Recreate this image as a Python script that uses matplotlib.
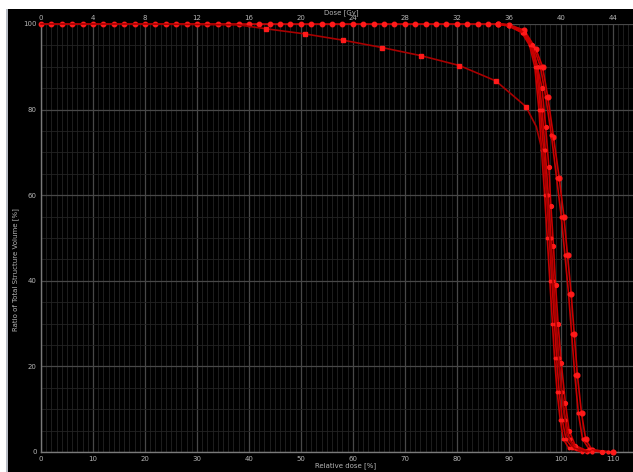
import matplotlib
matplotlib.use("Agg")
import matplotlib.pyplot as plt
from matplotlib.patches import Rectangle
import numpy as np

# ---- data (relative dose [%], volume [%]) ----
flat_x = [0, 2, 4, 6, 8, 10, 12, 14, 16, 18, 20, 22, 24, 26, 28, 30, 32, 34, 36,
          38, 40, 42, 44, 46, 48, 50, 52, 54, 56, 58, 60, 62, 64, 66, 68, 70, 72,
          74, 76, 78, 80, 82, 84, 86, 88]

c1_x = [90, 93, 95.2, 96.5, 97.5, 98.6, 99.7, 100.6, 101.3, 102.0, 102.6, 103.2, 104.0, 104.8, 106, 110]
c1_y = [99.8, 98.5, 94.2, 90, 83, 73.7, 64, 55, 46, 37, 27.5, 18, 9, 3, 0.5, 0]

c2_x = [90, 92.8, 94.8, 96.1, 97.1, 98.2, 99.2, 100.1, 100.8, 101.5, 102.1, 102.7, 103.4, 104.2, 105.5, 109]
c2_y = [99.8, 98.6, 94.5, 90, 83, 74, 64, 55, 46, 37, 27.5, 18, 9, 3, 0.6, 0]

c3_x = [90, 93, 94.5, 95.5, 96.4, 97.1, 97.7, 98.1, 98.6, 99.0, 99.5, 100.1, 100.9, 101.6, 102.8, 105, 108]
c3_y = [99.8, 98, 95, 90, 85, 76, 66.7, 57.5, 48.2, 39, 29.8, 20.7, 11.4, 5, 1.5, 0.3, 0]

c4_x = [90, 92.5, 94, 95, 95.8, 96.3, 96.9, 97.4, 97.9, 98.4, 98.8, 99.3, 99.9, 100.5, 101.5, 104]
c4_y = [99.5, 98, 95, 90, 80, 70.6, 60, 50, 40, 30, 22, 14, 7.5, 3, 1, 0]

c5_x = [90, 92.7, 94.2, 95.3, 96.1, 96.7, 97.3, 97.8, 98.3, 98.8, 99.2, 99.7, 100.3, 101.0, 102.2, 105]
c5_y = [99.6, 98, 95, 90, 80, 70.6, 60, 50, 40, 30, 22, 14, 7.5, 3, 1, 0]

c6_x = [90, 92.9, 94.4, 95.5, 96.4, 97.0, 97.6, 98.1, 98.6, 99.1, 99.6, 100.2, 100.9, 101.7, 103.0, 106]
c6_y = [99.7, 98, 95, 90, 80, 70.6, 60, 50, 40, 30, 22, 14, 7.5, 3, 1, 0]

c7_x = [0, 20, 38, 43.2, 50.7, 58.2, 65.6, 73.1, 80.5, 87.5, 93.3, 95.3, 96.5, 97.3, 97.9, 98.5, 99.1, 99.7, 100.4, 101.2, 102.5, 105]
c7_y = [100, 100, 99.8, 98.9, 97.7, 96.2, 94.5, 92.6, 90.3, 86.7, 80.7, 76, 70, 60, 50, 40, 30, 20, 11, 4, 1, 0]

dose_ticks_gy = [0, 4, 8, 12, 16, 20, 24, 28, 32, 36, 40, 44]
rel_ticks = [0, 10, 20, 30, 40, 50, 60, 70, 80, 90, 100, 110]
vol_ticks = [0, 20, 40, 60, 80, 100]
prescription_gy = 40.0

# ---- figure ----
W, H = 633, 472
fig = plt.figure(figsize=(W / 100, H / 100), dpi=100, facecolor="black")
fig.patches.append(Rectangle((0, 1 - 9 / H), 1, 9 / H, transform=fig.transFigure,
                             facecolor="white", edgecolor="none", zorder=0))
fig.patches.append(Rectangle((0, 0), 6 / W, 1, transform=fig.transFigure,
                             facecolor="white", edgecolor="none", zorder=0))
fig.patches.append(Rectangle((6 / W, 0), 2 / W, 1 - 9 / H, transform=fig.transFigure,
                             facecolor="#b8bcc4", edgecolor="none", zorder=0))

ax = fig.add_axes([41 / W, 1 - 452 / H, 1 - 41 / W, (452 - 24) / H])
ax.set_facecolor("black")
ax.set_xlim(0, 113.9)
ax.set_ylim(0, 100)

# grid
ax.set_xticks(rel_ticks)
ax.set_xticks(np.arange(0, 114, 1), minor=True)
ax.set_yticks(vol_ticks)
ax.set_yticks(np.arange(0, 101, 5), minor=True)
ax.grid(which="minor", color="#232323", linewidth=0.6)
ax.grid(which="major", color="#484848", linewidth=0.9)
ax.set_axisbelow(True)
for s in ["top", "right"]:
    ax.spines[s].set_visible(False)
for s in ["left", "bottom"]:
    ax.spines[s].set_color("#7a7a7a")
    ax.spines[s].set_linewidth(1.0)

ax.tick_params(which="both", length=0, colors="#b5b5b5", labelsize=5)
ax.tick_params(axis="x", pad=3)
ax.tick_params(axis="y", pad=3)

# top axis
top = ax.secondary_xaxis("top", functions=(lambda r: r * prescription_gy / 100,
                                           lambda d: d * 100 / prescription_gy))
top.set_xticks(dose_ticks_gy)
top.tick_params(length=0, colors="#b5b5b5", labelsize=5, pad=2)
top.spines["top"].set_visible(False)

line_c = "#c80000"
mk_c = "#ff1a1a"

# flat common part
ax.plot(flat_x, [100] * len(flat_x), color=line_c, lw=1.2, marker="o", ms=3.2,
        mfc=mk_c, mec=mk_c, clip_on=False, zorder=3)

curves = [(c1_x, c1_y, 3.4), (c2_x, c2_y, 2.0), (c3_x, c3_y, 2.8),
          (c4_x, c4_y, 1.8), (c5_x, c5_y, 1.8), (c6_x, c6_y, 2.0)]
for xs, ys, ms in curves:
    ax.plot([88] + xs, [100] + ys, color=line_c, lw=1.2, marker="o", ms=ms,
            mfc=mk_c, mec=mk_c, clip_on=False, zorder=3)

ax.plot(c7_x, c7_y, color="#a80000", lw=1.2, marker="s", ms=3.0,
        mfc=mk_c, mec=mk_c, markevery=list(range(3, 11)), clip_on=False, zorder=3)

# labels
fig.text(16 / W, 1 - 270 / H, "Ratio of Total Structure Volume [%]", rotation=90,
         color="#b5b5b5", fontsize=5, ha="center", va="center")
fig.text(315 / W, 1 - 466 / H, "Relative dose [%]", color="#b5b5b5", fontsize=5,
         ha="left", va="center")
fig.text(324 / W, 1 - 13 / H, "Dose [Gy]", color="#b5b5b5", fontsize=5,
         ha="left", va="center")

fig.savefig("out.png", dpi=100, facecolor="black")
